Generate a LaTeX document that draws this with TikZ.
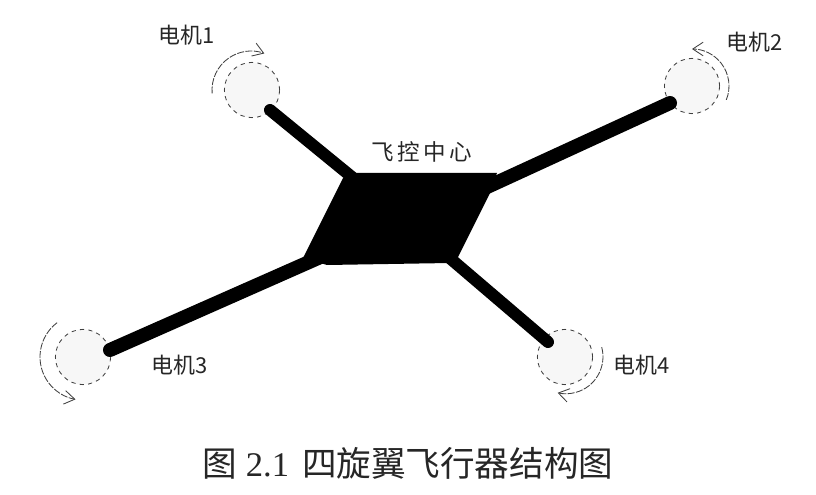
\documentclass[tikz,border=0pt]{standalone}
\usepackage{fontspec}
\setmainfont{Liberation Serif}
\newfontfamily\cjk{Noto Sans CJK SC}
\newfontfamily\cjkwide[LetterSpace=15]{Noto Sans CJK SC}
\usetikzlibrary{arrows.meta,positioning,calc}
\definecolor{inkgray}{gray}{0.15}
\tikzset{
  motor/.style={circle,draw=black!75,dashed,line width=0.6pt,fill=black!3,inner sep=0pt,minimum size=1.38cm},
  arm/.style={line width=#1,line cap=round,black},
  spin/.style={draw=black!75,dash pattern=on 5pt off 1pt,line width=0.6pt,-{Straight Barb[length=2.6mm,width=3.4mm,open]}},
  motorlabel/.style={font=\fontsize{15.6}{18}\selectfont\cjk,text=inkgray,inner sep=0pt},
}
\begin{document}
\begin{tikzpicture}[x=0.025cm,y=0.025cm]
\useasboundingbox (0,0) rectangle (816,494);
\fill[white] (0,0) rectangle (816,494);

% motors
\node[motor] (m1) at (252,404) {};
\node[motor] (m2) at (692,408) {};
\node[motor] (m3) at (83,137) {};
\node[motor] (m4) at (565,137) {};

% hubs and body corners
\coordinate (hub1) at (270,384);
\coordinate (hub2) at (670,391);
\coordinate (hub3) at (110,144);
\coordinate (hub4) at (548,152);
\coordinate (root1) at (358,312);
\coordinate (root2) at (485,306);
\coordinate (root3) at (325,239);
\coordinate (root4) at (445,240);

\fill[black] (355,321) -- (497,321) -- (490,301) -- (458,237) -- (450,231) -- (327,229) -- (303,236) -- (343,316) -- cycle;

\foreach \a/\b/\w in {hub1/root1/3mm, hub2/root2/3.5mm, hub3/root3/3.5mm, hub4/root4/3mm}
  \draw[arm=\w] (\a) -- (\b);

% rotation arrows
\draw[spin] ($(m1)+(185:40)$) arc[start angle=185,end angle=70,radius=39];
\draw[spin] ($(m2)+(-22:37)$) arc[start angle=-22,end angle=90,radius=37];
\draw[spin] ($(m3)+(127:43)$) arc[start angle=127,end angle=260,radius=43];
\draw[spin] ($(m4)+(15:38)$) arc[start angle=15,end angle=-103,radius=37];

% labels
\node[motorlabel] (l1) at (187,459) {电机1};
\node[motorlabel] (l2) at (755,452) {电机2};
\node[motorlabel] (l3) at (180,129) {电机3};
\node[motorlabel] (l4) at (642,129) {电机4};
\node[inner sep=0pt,text=inkgray,font=\fontsize{16}{18}\selectfont\cjkwide] (center) at (422,342) {飞控中心};
\node[inner sep=0pt,text=inkgray,font=\fontsize{24.6}{28}\selectfont] (caption) at (408,31) {{\cjk 图} 2.1\hspace{3pt} {\cjk 四旋翼飞行器结构图}};
\end{tikzpicture}
\end{document}
